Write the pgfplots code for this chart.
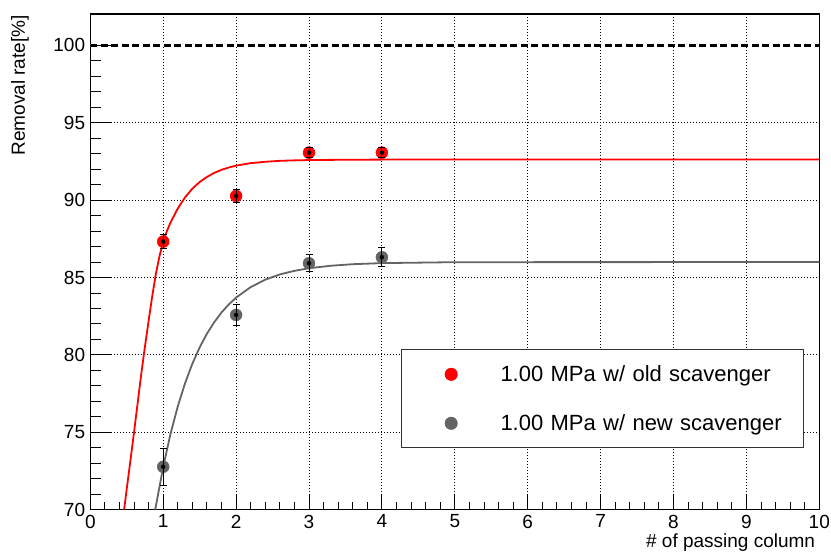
\documentclass[border=0pt]{standalone}
\usepackage{pgfplots}
\pgfplotsset{compat=1.18}
\usepackage{fontspec}
\setmainfont{Liberation Sans}
\definecolor{rootred}{RGB}{255,0,0}
\definecolor{rootgray}{RGB}{100,100,100}
\begin{document}
\begin{tikzpicture}
\begin{axis}[
  width=729pt, height=495.6pt, scale only axis,
  xmin=0, xmax=10, ymin=70, ymax=102.03,
  xtick={0,1,...,10}, ytick={70,75,...,100},
  minor x tick num=4, minor y tick num=4,
  tick align=inside, xtick pos=left, ytick pos=left,
  major tick length=15pt, minor tick length=7.5pt,
  tick style={black, line width=0.9pt},
  axis line style={black, line width=1.4pt},
  grid=major, grid style={black, line width=0.9pt, dash pattern=on 1pt off 2pt},
  /pgf/number format/assume math mode=true,
  ticklabel style={font=\fontsize{19}{19}\selectfont, inner sep=0pt},
  yticklabel style={xshift=-5pt},
  xticklabel style={yshift=-5pt},
  xlabel={\# of passing column},
  ylabel={Removal rate[\%]},
  label style={font=\fontsize{19}{19}\selectfont, inner sep=0pt},
  xlabel style={at={(axis description cs:0.9945,0)}, anchor=base east, yshift=-38.4pt},
  ylabel style={at={(axis description cs:-0.0896,0.998)}, anchor=base east},
  legend cell align=left,
  legend style={at={(axis description cs:0.4258,0.3234)}, anchor=north west,
    draw=black!80, line width=1pt, fill=white,
    font=\fontsize{22}{22}\selectfont, inner sep=0pt, row sep=0pt, column sep=0pt,
    nodes={draw=none, fill=none, inner sep=0pt, text width=303pt, align=left}},
  legend image code/.code={\path[draw=none, fill=none] (-50pt,-24.5pt) rectangle (49.3pt,24.5pt);
    \draw[#1] plot coordinates {(0pt,0pt)};},
]
% reference line
\addplot[forget plot, white, line width=2.4pt] coordinates {(0,100) (10,100)};
\addplot[forget plot, black, line width=2.2pt, dash pattern=on 7pt off 3.5pt] coordinates {(0,100) (10,100)};
% fit curves
\addplot[forget plot, rootred, line width=1.8pt] coordinates {
  (0.464,70) (0.5,71.35) (0.55,73.15) (0.6,75.0) (0.65,76.9) (0.7,78.8) (0.75,80.55)
  (0.8,82.2) (0.85,83.8) (0.9,85.25) (0.95,86.4) (1.0,87.3) (1.05,88.0) (1.1,88.55)
  (1.2,89.46) (1.3,90.18) (1.4,90.74) (1.5,91.17) (1.6,91.5) (1.7,91.76) (1.8,91.96)
  (1.9,92.11) (2.0,92.23) (2.2,92.39) (2.4,92.48) (2.6,92.54) (2.8,92.57) (3.0,92.59)
  (3.5,92.61) (4,92.62) (10,92.62)};
\addplot[forget plot, rootgray, line width=1.8pt] coordinates {
  (0.89,70.0) (0.9,70.23) (1.0,72.76) (1.1,74.89) (1.2,76.67) (1.3,78.17) (1.4,79.43)
  (1.5,80.48) (1.6,81.37) (1.7,82.11) (1.8,82.74) (1.9,83.26) (2.0,83.7) (2.2,84.38)
  (2.4,84.86) (2.6,85.2) (2.8,85.43) (3.0,85.6) (3.3,85.76) (3.6,85.86) (4.0,85.93)
  (5.0,85.99) (10,86.0)};
% markers
\addplot[only marks, mark=*, mark size=6pt, color=rootred] coordinates {(1,87.32) (2,90.27) (3,93.07) (4,93.07)};
\addlegendentry{1.00 MPa w/ old scavenger}
\addplot[only marks, mark=*, mark size=6pt, color=rootgray] coordinates {(1,72.77) (2,82.58) (3,85.92) (4,86.31)};
\addlegendentry{1.00 MPa w/ new scavenger}
\end{axis}
% overlay: longer y ticks and error bars on top of the markers
\begin{axis}[
  width=729pt, height=495.6pt, scale only axis,
  xmin=0, xmax=10, ymin=70, ymax=102.03,
  axis line style={draw=none},
  xtick=\empty, ytick={70,75,...,100}, yticklabels={},
  minor y tick num=4, tick align=inside, ytick pos=left,
  major tick length=22pt, minor tick length=11pt,
  tick style={black, line width=0.9pt},
]
\addplot[black, only marks, mark=none, error bars/.cd, y dir=both, y explicit,
  error bar style={draw=black, line width=0.9pt},
  error mark options={draw=black, rotate=90, mark size=3.5pt, line width=0.9pt}]
  coordinates {(1,87.32) +- (0,0.45) (2,90.27) +- (0,0.4) (3,93.07) +- (0,0.33) (4,93.07) +- (0,0.33)};
\addplot[black, only marks, mark=none, error bars/.cd, y dir=both, y explicit,
  error bar style={draw=black, line width=0.9pt},
  error mark options={draw=black, rotate=90, mark size=3.5pt, line width=0.9pt}]
  coordinates {(1,72.77) +- (0,1.2) (2,82.58) +- (0,0.7) (3,85.92) +- (0,0.56) (4,86.31) +- (0,0.62)};
\end{axis}
\pgfresetboundingbox
\path[use as bounding box] (-90.3pt,-42.4pt) rectangle (740.7pt,509.6pt);
\end{tikzpicture}
\end{document}
